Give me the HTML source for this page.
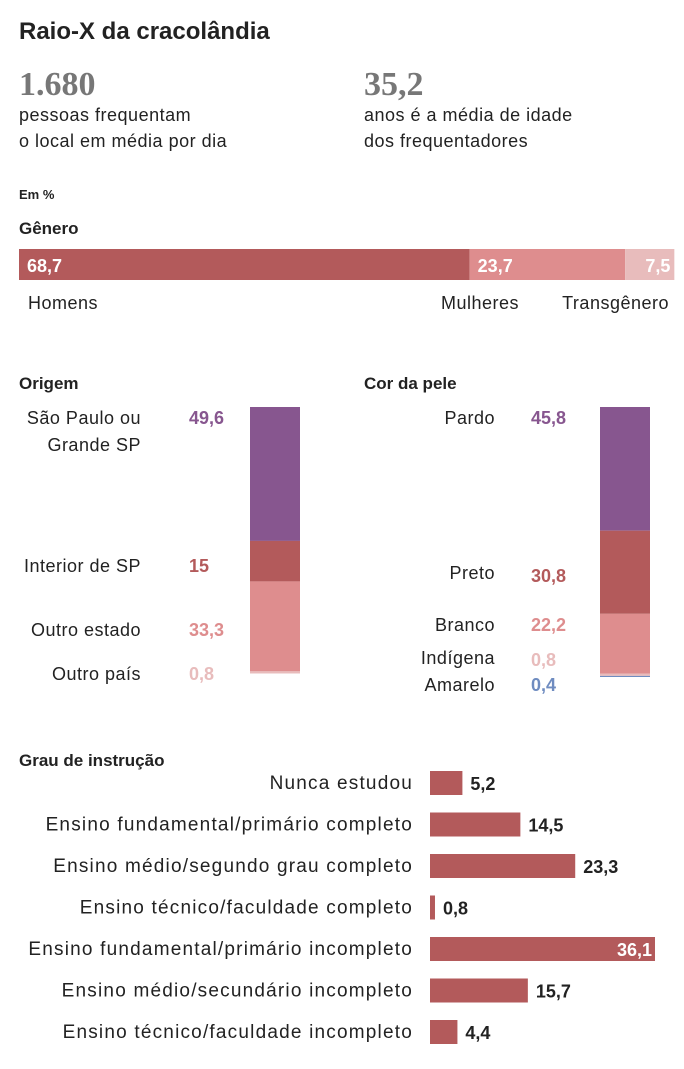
<!DOCTYPE html>
<html><head><meta charset="utf-8"><style>
html,body{margin:0;padding:0;background:#fff;}
svg{display:block;font-family:"Liberation Sans",sans-serif;}
</style></head><body>
<svg id="c" width="684" height="1069" viewBox="0 0 684 1069">
<text x="19" y="39" font-size="24" font-weight="bold" fill="#222">Raio-X da cracolândia</text>
<text x="19" y="95" font-size="34" font-weight="bold" fill="#777" font-family="Liberation Serif,serif">1.680</text>
<text x="19" y="121" font-size="18" letter-spacing="0.5" fill="#222">pessoas frequentam</text>
<text x="19" y="147" font-size="18" letter-spacing="0.5" fill="#222">o local em média por dia</text>
<text x="364" y="95" font-size="34" font-weight="bold" fill="#777" font-family="Liberation Serif,serif">35,2</text>
<text x="364" y="121" font-size="18" letter-spacing="0.5" fill="#222">anos é a média de idade</text>
<text x="364" y="147" font-size="18" letter-spacing="0.5" fill="#222">dos frequentadores</text>
<text x="19" y="199" font-size="13" font-weight="bold" fill="#222">Em %</text>
<text x="19" y="234" font-size="17" font-weight="bold" fill="#222">Gênero</text>
<text x="19" y="389" font-size="17" font-weight="bold" fill="#222">Origem</text>
<text x="364" y="389" font-size="17" font-weight="bold" fill="#222">Cor da pele</text>
<text x="19" y="766" font-size="17" font-weight="bold" fill="#222">Grau de instrução</text>
<g id="g"></g>
</svg>
<script>
const genderCats=["Homens","Mulheres","Transgênero"];
const genderVals=[68.7,23.7,7.5];
const genderLabels=["68,7","23,7","7,5"];
const originCats=[["São Paulo ou","Grande SP"],["Interior de SP"],["Outro estado"],["Outro país"]];
const originVals=[49.6,15,33.3,0.8];
const originLabels=["49,6","15","33,3","0,8"];
const skinCats=["Pardo","Preto","Branco","Indígena","Amarelo"];
const skinVals=[45.8,30.8,22.2,0.8,0.4];
const skinLabels=["45,8","30,8","22,2","0,8","0,4"];
const eduCats=["Nunca estudou","Ensino fundamental/primário completo","Ensino médio/segundo grau completo","Ensino técnico/faculdade completo","Ensino fundamental/primário incompleto","Ensino médio/secundário incompleto","Ensino técnico/faculdade incompleto"];
const eduVals=[5.2,14.5,23.3,0.8,36.1,15.7,4.4];
const eduLabels=["5,2","14,5","23,3","0,8","36,1","15,7","4,4"];

const NS="http://www.w3.org/2000/svg",G=document.getElementById("g");
function mk(t,a,txt){const e=document.createElementNS(NS,t);for(const k in a)e.setAttribute(k,a[k]);if(txt!=null)e.textContent=txt;G.appendChild(e);return e;}
const DR="#b35a5b",MR="#de8d8e",LR="#e8bcbc",PU="#87568f",BL="#6f8cc0";

const gx=v=>19+v*656/100;
let acc=0;const gCol=[DR,MR,LR];
genderVals.forEach((v,i)=>{
 let r=mk("rect",{x:gx(acc),y:249,width:gx(acc+v)-gx(acc),height:31,fill:gCol[i]});
 
 
 let anchor=i==2?"end":"start",tx=i==2?gx(acc+v)-4:gx(acc)+8;
 let t=mk("text",{x:tx,y:272,"font-size":18,"font-weight":"bold",fill:"#fff","text-anchor":anchor},genderLabels[i]);
 
 
 acc+=v;
});
[[28,"start"],[519,"end"],[669,"end"]].forEach((p,i)=>{
 let t=mk("text",{x:p[0],y:309,"font-size":18,"letter-spacing":0.5,fill:"#222","text-anchor":p[1]},genderCats[i]);
 
 
});

const sy=v=>407+v*2.7;
function stack(vals,cats,labels,cols,bx,lx,vx,lys,vys){
 let a=0;
 vals.forEach((v,i)=>{
  let r=mk("rect",{x:bx,y:sy(a),width:50,height:Math.max(sy(a+v)-sy(a),1),fill:cols[i]});
  
  
  a+=v;
  let c=cats[i];if(!Array.isArray(c))c=[c];
  c.forEach((line,j)=>{
   let t=mk("text",{x:lx,y:lys[i]+j*27,"font-size":18,"letter-spacing":0.5,fill:"#222","text-anchor":"end"},line);
   
   
  });
  let t=mk("text",{x:vx,y:vys[i],"font-size":18,"font-weight":"bold",fill:cols[i]},labels[i]);
  
  
 });
}
stack(originVals,originCats,originLabels,[PU,DR,MR,LR],250,141,189,[424,572,636,680],[424,572,636,680]);
stack(skinVals,skinCats,skinLabels,[PU,DR,MR,LR,BL],600,495,531,[424,579,631,664,691],[424,582,631,666,691]);

const ex=v=>v*225/36.1;
eduVals.forEach((v,i)=>{
 const cy=783+i*41.5;
 let t=mk("text",{x:413,y:cy+6,"font-size":19,"letter-spacing":1.2,fill:"#222","text-anchor":"end"},eduCats[i]);
 
 
 let r=mk("rect",{x:430,y:cy-12,width:ex(v),height:24,fill:DR});
 
 
 let inside=ex(v)>200;
 let vt=mk("text",{x:inside?430+ex(v)-3:430+ex(v)+8,y:cy+7,"font-size":18,"font-weight":"bold",fill:inside?"#fff":"#222","text-anchor":inside?"end":"start"},eduLabels[i]);
 
 
});
</script>
</body></html>
